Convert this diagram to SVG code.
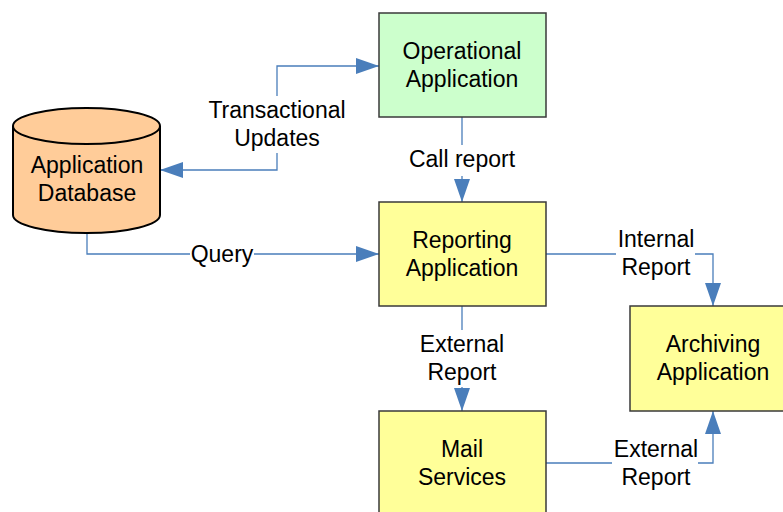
<svg xmlns="http://www.w3.org/2000/svg" width="783" height="512" viewBox="0 0 783 512">
<defs>
<style>
.box{stroke:#3a3a3a;stroke-width:1.5}
.cyl{stroke:#000;stroke-width:2}
.lbl{font-family:"Liberation Sans",Arial,sans-serif;font-size:23px;fill:#000;text-anchor:middle}
.edge{fill:none;stroke:#4a7ebb;stroke-width:1.3}
</style>
<marker id="ah" viewBox="0 0 23 16" refX="23" refY="8" markerWidth="23" markerHeight="16" markerUnits="userSpaceOnUse" orient="auto">
<path d="M0,0 L23,8 L0,16 Z" fill="#4a7ebb"/>
</marker>
</defs>
<rect width="783" height="512" fill="#fff"/>
<g id="connectors">
<path class="edge" d="M277,96 V66 H379" marker-end="url(#ah)"/>
<path class="edge" d="M277,153 V170 H160" marker-end="url(#ah)"/>
<path class="edge" d="M87,233 V254 H190 M254,254 H379" marker-end="url(#ah)"/>
<path class="edge" d="M462,117 V145 M462,176 V202" marker-end="url(#ah)"/>
<path class="edge" d="M546,254 H616 M695,254 H713 V306" marker-end="url(#ah)"/>
<path class="edge" d="M462,306 V330 M462,387 V411" marker-end="url(#ah)"/>
<path class="edge" d="M546,463 H612 M698,463 H713 V411" marker-end="url(#ah)"/>
<text class="lbl" x="277" y="118">Transactional</text>
<text class="lbl" x="277" y="146">Updates</text>
<text class="lbl" x="222" y="262">Query</text>
<text class="lbl" x="462" y="167">Call report</text>
<text class="lbl" x="656" y="247">Internal</text>
<text class="lbl" x="656" y="275">Report</text>
<text class="lbl" x="462" y="352">External</text>
<text class="lbl" x="462" y="380">Report</text>
<text class="lbl" x="656" y="457">External</text>
<text class="lbl" x="656" y="485">Report</text>
</g>
<g id="db">
<path class="cyl" fill="#ffcc99" d="M13,126 V215 A73.5,18 0 0 0 160,215 V126 A73.5,18 0 0 0 13,126 Z"/>
<path class="cyl" fill="none" d="M13,126 A73.5,18 0 0 0 160,126"/>
<text class="lbl" x="87" y="173">Application</text>
<text class="lbl" x="87" y="201">Database</text>
</g>
<g id="operational">
<rect class="box" x="379" y="13" width="167" height="104" fill="#ccffcc"/>
<text class="lbl" x="462" y="59">Operational</text>
<text class="lbl" x="462" y="87">Application</text>
</g>
<g id="reporting">
<rect class="box" x="379" y="202" width="167" height="104" fill="#ffff99"/>
<text class="lbl" x="462" y="248">Reporting</text>
<text class="lbl" x="462" y="276">Application</text>
</g>
<g id="archiving">
<rect class="box" x="630" y="306" width="160" height="105" fill="#ffff99"/>
<text class="lbl" x="713" y="352">Archiving</text>
<text class="lbl" x="713" y="380">Application</text>
</g>
<g id="mail">
<rect class="box" x="379" y="411" width="167" height="110" fill="#ffff99"/>
<text class="lbl" x="462" y="457">Mail</text>
<text class="lbl" x="462" y="485">Services</text>
</g>
</svg>
